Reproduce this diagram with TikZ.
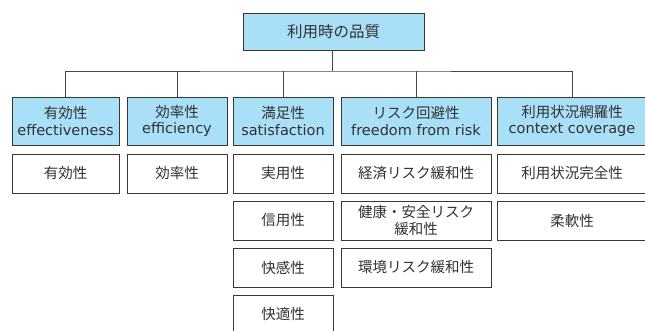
\documentclass[tikz,border=0pt]{standalone}
\usepackage{fontspec}
\setmainfont{Noto Sans CJK JP}
\newfontfamily\latinfont{DejaVu Sans}
\definecolor{boxblue}{RGB}{170,223,248}
\definecolor{edge}{RGB}{55,55,55}
\definecolor{txt}{RGB}{50,50,50}
\definecolor{wire}{RGB}{70,70,70}
\tikzset{
  basebox/.style={draw=edge, line width=0.9pt, inner sep=0pt, outer sep=0pt, anchor=center,
    align=center, text=txt, font=\fontsize{14.5}{16.5}\selectfont},
  bluebox/.style={basebox, fill=boxblue, minimum height=48pt},
  whitebox/.style={basebox, fill=white, minimum height=39pt},
  wirestyle/.style={draw=wire, line width=0.9pt}
}
\begin{document}
\begin{tikzpicture}[x=1pt,y=-1pt]
\clip (0,0) rectangle (645,331);
\useasboundingbox (0,0) rectangle (645,331);
\fill[white] (0,0) rectangle (645,331);

\node[bluebox, minimum width=181pt, minimum height=37pt, font=\fontsize{15.5}{18}\selectfont] (top) at (333.5,31.5) {利用時の品質};

\node[bluebox, minimum width=107pt] (b1) at (65.5,121) {有効性\\{\latinfont effectiveness}};
\node[bluebox, minimum width=100pt] (b2) at (177,121) {効率性\\{\latinfont efficiency}};
\node[bluebox, minimum width=100pt] (b3) at (283,121) {満足性\\{\latinfont satisfaction}};
\node[bluebox, minimum width=150pt] (b4) at (416,121) {リスク回避性\\{\latinfont freedom from risk}};
\node[bluebox, minimum width=150pt] (b5) at (572,121) {利用状況網羅性\\{\latinfont context coverage}};

\coordinate (bus) at (332,71);
\draw[wirestyle] (top.south -| bus) -- (bus);
\draw[wirestyle] (b1.north) |- (bus) -| (b5.north);
\draw[wirestyle] (b2.north) -- (b2.north |- bus);
\draw[wirestyle] (b3.north) -- (b3.north |- bus);
\draw[wirestyle] (b4.north) -- (b4.north |- bus);

\node[whitebox, minimum width=107pt] (w11) at (65.5,173.5) {有効性};
\node[whitebox, minimum width=100pt] (w21) at (177,173.5) {効率性};
\node[whitebox, minimum width=100pt] (w31) at (283,173.5) {実用性};
\node[whitebox, minimum width=100pt] (w32) at (283,220.5) {信用性};
\node[whitebox, minimum width=100pt] (w33) at (283,267.5) {快感性};
\node[whitebox, minimum width=100pt] (w34) at (283,314.5) {快適性};
\node[whitebox, minimum width=150pt] (w41) at (416,173.5) {経済リスク緩和性};
\node[whitebox, minimum width=150pt] (w42) at (416,220.5) {健康・安全リスク\\緩和性};
\node[whitebox, minimum width=150pt] (w43) at (416,267.5) {環境リスク緩和性};
\node[whitebox, minimum width=150pt] (w51) at (572,173.5) {利用状況完全性};
\node[whitebox, minimum width=150pt] (w52) at (572,220.5) {柔軟性};
\end{tikzpicture}
\end{document}
